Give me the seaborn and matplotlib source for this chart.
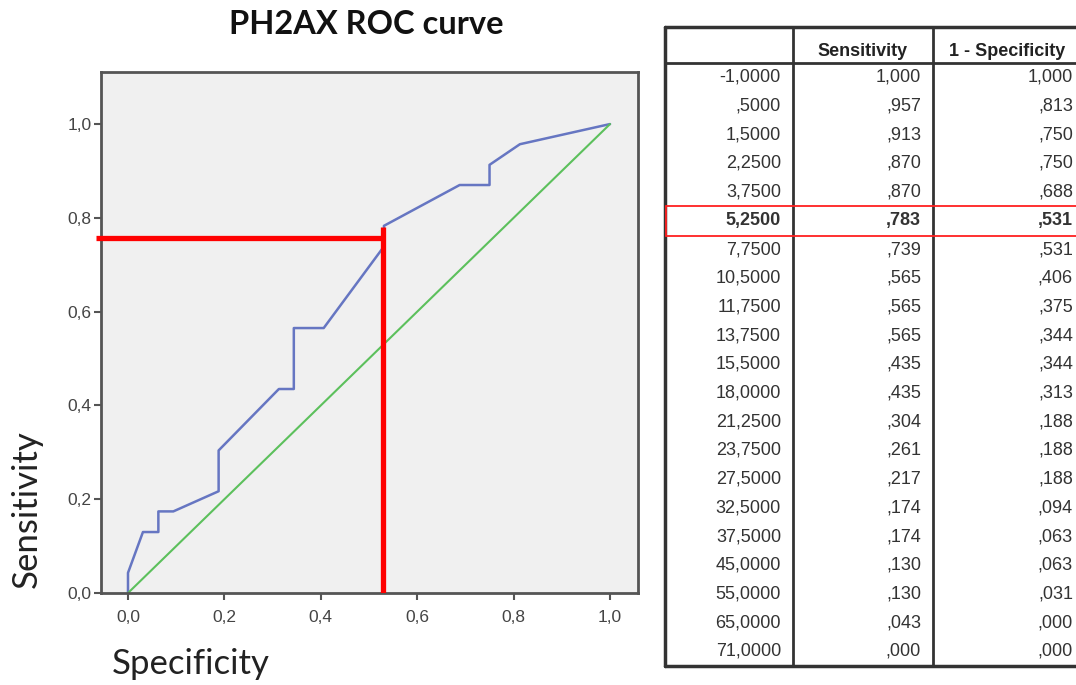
import pandas as pd
import matplotlib.pyplot as plt
import seaborn as sns
from matplotlib.ticker import FuncFormatter

# ROC coordinates (SPSS output)
thresholds = [-1.0, 0.5, 1.5, 2.25, 3.75, 5.25, 7.75, 10.5, 11.75, 13.75, 15.5,
              18.0, 21.25, 23.75, 27.5, 32.5, 37.5, 45.0, 55.0, 65.0, 71.0]
sensitivity = [1.000, .957, .913, .870, .870, .783, .739, .565, .565, .565, .435,
               .435, .304, .261, .217, .174, .174, .130, .130, .043, .000]
one_minus_spec = [1.000, .813, .750, .750, .688, .531, .531, .406, .375, .344, .344,
                  .313, .188, .188, .188, .094, .063, .063, .031, .000, .000]
col_headers = ["", "Sensitivity", "1 - Specificity"]
highlight_row = 5
cutoff_x = 0.529
cutoff_y = 0.757
cutoff_top = 0.78


def fmt(v, d):
    s = f"{v:.{d}f}".replace(".", ",")
    if s.startswith("0,"):
        s = s[1:]
    return s


sns.set_style("white")
plt.rcParams["font.family"] = ["Liberation Sans", "DejaVu Sans"]

W, H = 1076, 685
fig = plt.figure(figsize=(W / 100, H / 100), dpi=100)

# =============================
# ROC plot
# =============================
ax = fig.add_axes([101 / W, 1 - 593 / H, (638 - 101) / W, (593 - 72) / H])
ax.set_facecolor("#f0f0f0")

roc = pd.DataFrame({"x": one_minus_spec, "y": sensitivity})
sns.lineplot(data=roc, x="x", y="y", sort=False, estimator=None,
             color="#6676c2", linewidth=1.8, ax=ax)
sns.lineplot(x=[0, 1], y=[0, 1], color="#5cc05c", linewidth=1.5, ax=ax)

ax.plot([-0.066, cutoff_x], [cutoff_y, cutoff_y], color="#ff0000", lw=3.8,
        solid_capstyle="butt", clip_on=False, zorder=5)
ax.plot([cutoff_x, cutoff_x], [0, cutoff_top], color="#ff0000", lw=3.8,
        solid_capstyle="butt", zorder=5)

ax.set_xlim(-0.056, 1.058)
ax.set_ylim(0, 1.111)
ax.set_xticks([0, 0.2, 0.4, 0.6, 0.8, 1.0])
ax.set_yticks([0, 0.2, 0.4, 0.6, 0.8, 1.0])
ax.xaxis.set_major_formatter(FuncFormatter(lambda v, p: f"{v:.1f}".replace(".", ",")))
ax.yaxis.set_major_formatter(FuncFormatter(lambda v, p: f"{v:.1f}".replace(".", ",")))
ax.tick_params(axis="both", direction="out", length=5, width=1.5, color="#555555",
               labelsize=12.5, labelcolor="#444444", bottom=True, left=True, pad=2)
ax.tick_params(axis="x", pad=7)
for sp in ax.spines.values():
    sp.set_color("#555555")
    sp.set_linewidth(2)
ax.set_xlabel("")
ax.set_ylabel("")

fig.text(366 / W, 1 - 25 / H, "PH2AX ROC curve", ha="center", va="center",
         fontsize=23.5, fontweight="bold", family=["Lato", "DejaVu Sans"], color="#111111")
fig.text(27 / W, 1 - 509 / H, "Sensitivity", ha="center", va="center", rotation=90,
         fontsize=25, family=["Lato", "DejaVu Sans"], color="#222222")
fig.text(112 / W, 1 - 664 / H, "Specificity", ha="left", va="center",
         fontsize=25, family=["Lato", "DejaVu Sans"], color="#222222")

# =============================
# Coordinates table
# =============================
tx0, ty0 = 665, 27
header_h = 36
row_h = 28.7
col_edges = [665, 793, 933, 1090]
n = len(thresholds)
ty1 = ty0 + header_h + n * row_h

tab = fig.add_axes([0, 0, 1, 1], facecolor="none")
tab.set_xlim(0, W)
tab.set_ylim(H, 0)
tab.axis("off")

border = "#333333"
tab.plot([tx0, tx0], [ty0, ty1], color=border, lw=2.5)
tab.plot([tx0, W + 5], [ty0, ty0], color=border, lw=2.5)
tab.plot([tx0, W + 5], [ty1, ty1], color=border, lw=2.5)
tab.plot([tx0, W + 5], [ty0 + header_h, ty0 + header_h], color=border, lw=2)
for cx in col_edges[1:3]:
    tab.plot([cx, cx], [ty0, ty1], color=border, lw=2)

tab.text((col_edges[1] + col_edges[2]) / 2, ty0 + header_h - 7, col_headers[1],
         ha="center", va="baseline", fontsize=13, fontweight="bold", color="#222222")
tab.text((col_edges[2] + col_edges[3]) / 2 - 4, ty0 + header_h - 7, col_headers[2],
         ha="center", va="baseline", fontsize=13, fontweight="bold", color="#222222")

for i in range(n):
    yc = ty0 + header_h + (i + 0.5) * row_h
    weight = "bold" if i == highlight_row else "normal"
    vals = [fmt(thresholds[i], 4), fmt(sensitivity[i], 3), fmt(one_minus_spec[i], 3)]
    rights = [col_edges[1] - 12, col_edges[2] - 12, W - 3]
    for v, r in zip(vals, rights):
        tab.text(r, yc, v, ha="right", va="center", fontsize=13,
                 fontweight=weight, color="#333333")

# highlight box around the chosen cut-off
hy0 = ty0 + header_h + highlight_row * row_h - 0.5
hy1 = hy0 + row_h + 1
tab.plot([tx0 + 1, W + 5], [hy0, hy0], color="#ff2020", lw=1.3)
tab.plot([tx0 + 1, W + 5], [hy1, hy1], color="#ff2020", lw=1.3)
tab.plot([tx0 + 1, tx0 + 1], [hy0, hy1], color="#ff2020", lw=1.3)

fig.savefig("out.png", dpi=100)
